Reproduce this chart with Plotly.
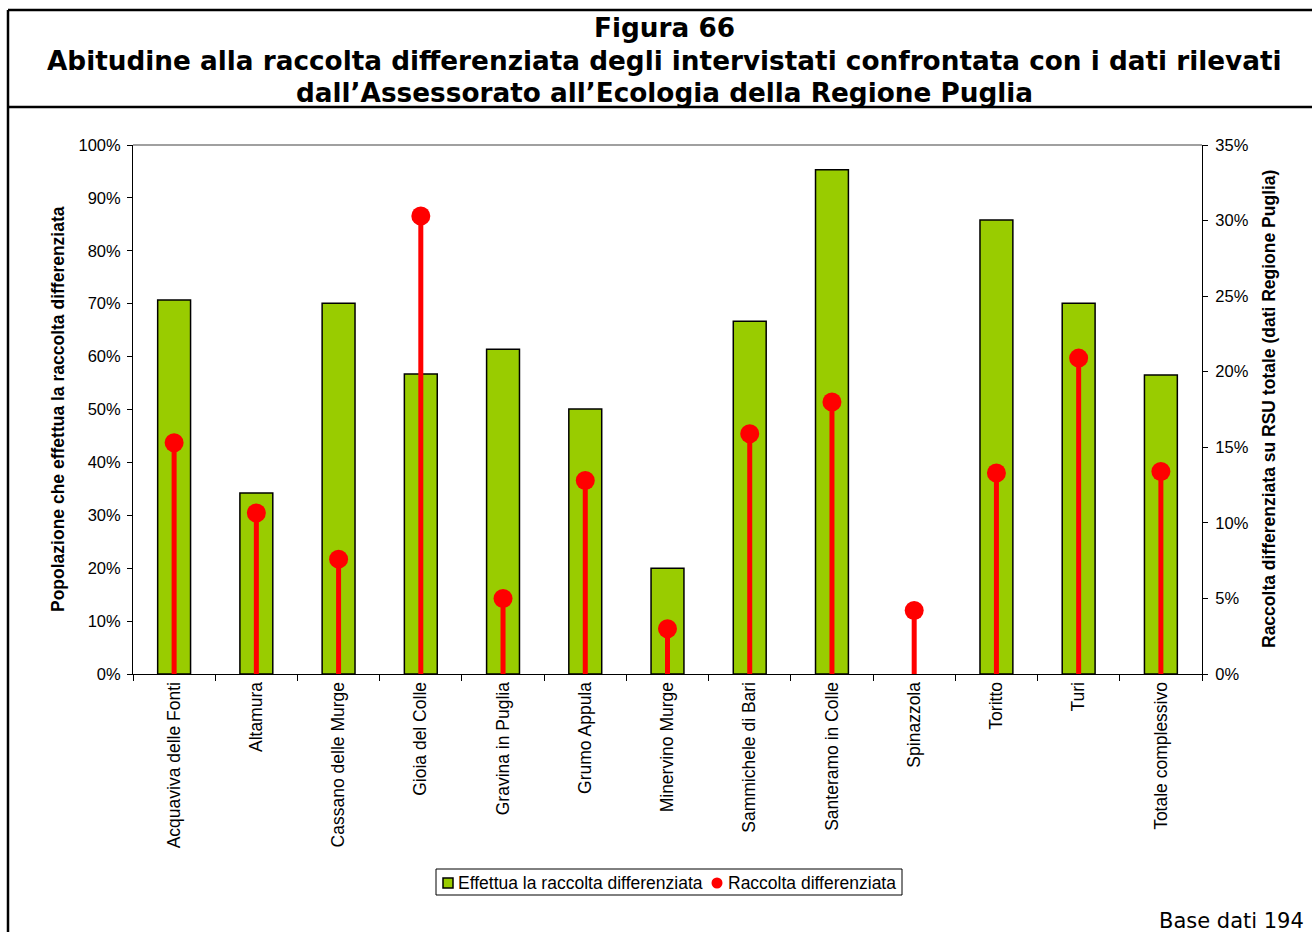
import plotly.graph_objects as go

categories = ["Acquaviva delle Fonti", "Altamura", "Cassano delle Murge", "Gioia del Colle",
              "Gravina in Puglia", "Grumo Appula", "Minervino Murge", "Sammichele di Bari",
              "Santeramo in Colle", "Spinazzola", "Toritto", "Turi", "Totale complessivo"]
effettua = [70.7, 34.2, 70.1, 56.7, 61.4, 50.1, 20.0, 66.7, 95.3, 0.0, 85.8, 70.1, 56.5]
raccolta = [15.3, 10.65, 7.6, 30.3, 5.0, 12.8, 3.0, 15.9, 18.0, 4.2, 13.3, 20.9, 13.4]

left_ticks = [0, 10, 20, 30, 40, 50, 60, 70, 80, 90, 100]
right_ticks = [0, 5, 10, 15, 20, 25, 30, 35]

W, H = 1312, 932
L, R, T, B = 133, 1202, 145, 674


def xp(px):
    return (px - L) / (R - L)


def yp(py):
    return (B - py) / (B - T)


FONT = "Arial, Liberation Sans, sans-serif"
TFONT = "Verdana, DejaVu Sans, sans-serif"
GREEN = "#99CC00"
RED = "#FF0000"

fig = go.Figure()
fig.add_trace(go.Bar(
    x=categories, y=effettua, name="Effettua la raccolta differenziata",
    marker=dict(color=GREEN,
                line=dict(color="black", width=[1.5 if v > 0 else 0 for v in effettua])),
    width=0.4, yaxis="y", showlegend=False,
))
fig.add_trace(go.Scatter(
    x=categories, y=raccolta, name="Raccolta differenziata", mode="markers",
    marker=dict(color=RED, size=19),
    error_y=dict(type="data", symmetric=False, array=[0] * len(raccolta),
                 arrayminus=raccolta, color=RED, thickness=5, width=0),
    yaxis="y2", showlegend=False,
))

fig.update_layout(
    width=W, height=H,
    margin=dict(l=L, r=W - R, t=T, b=H - B),
    paper_bgcolor="white", plot_bgcolor="white",
    font=dict(family=FONT, size=16, color="black"),
    showlegend=False,
    xaxis=dict(showline=True, linecolor="black", linewidth=1, ticks="outside",
               tickson="boundaries", ticklen=6, tickcolor="black", tickangle=-90,
               tickfont=dict(family=FONT, size=17.5), showgrid=False,
               range=[-0.5, len(categories) - 0.5]),
    yaxis=dict(range=[0, 100], tickvals=left_ticks,
               ticktext=[f"{v}%" for v in left_ticks],
               showline=True, linecolor="black", linewidth=1, ticks="outside",
               ticklen=5, tickcolor="black", showgrid=False, zeroline=False,
               ticklabelstandoff=3,
               tickfont=dict(family=FONT, size=16.5)),
    yaxis2=dict(range=[0, 35], tickvals=right_ticks,
                ticktext=[f"{v}%" for v in right_ticks],
                overlaying="y", side="right",
                showline=True, linecolor="black", linewidth=1, ticks="outside",
                ticklen=5, tickcolor="black", showgrid=False, zeroline=False,
                ticklabelstandoff=4,
                tickfont=dict(family=FONT, size=16.5)),
)

shapes = [
    # top border of plot area (gray)
    dict(type="line", xref="paper", yref="paper", x0=0, x1=1, y0=1, y1=1,
         line=dict(color="#808080", width=1.5)),
    # frame
    dict(type="line", xref="paper", yref="paper", x0=xp(8), x1=xp(8), y0=yp(10), y1=yp(940),
         line=dict(color="black", width=2.5)),
    dict(type="line", xref="paper", yref="paper", x0=xp(8), x1=xp(1320), y0=yp(10), y1=yp(10),
         line=dict(color="black", width=2.5)),
    dict(type="line", xref="paper", yref="paper", x0=xp(8), x1=xp(1320), y0=yp(107), y1=yp(107),
         line=dict(color="black", width=2.5)),
    # legend box
    dict(type="rect", xref="paper", yref="paper", x0=xp(436), x1=xp(902), y0=yp(869), y1=yp(895),
         line=dict(color="black", width=1), fillcolor="white"),
    dict(type="rect", xref="paper", yref="paper", x0=xp(443), x1=xp(453), y0=yp(878), y1=yp(888),
         line=dict(color="black", width=1.5), fillcolor=GREEN),
    dict(type="circle", xref="paper", yref="paper", x0=xp(711.5), x1=xp(722.5), y0=yp(877.5), y1=yp(888.5),
         line=dict(color=RED, width=0), fillcolor=RED),
]
fig.update_layout(shapes=shapes)

title_lines = ["Figura 66",
               "Abitudine alla raccolta differenziata degli intervistati confrontata con i dati rilevati",
               "dall\u2019Assessorato all\u2019Ecologia della Regione Puglia"]
title_y = [28, 61, 93]
annotations = []
for txt, ty in zip(title_lines, title_y):
    annotations.append(dict(text=f"<b>{txt}</b>", xref="paper", yref="paper",
                            x=xp(664), y=yp(ty), xanchor="center", yanchor="middle",
                            showarrow=False, font=dict(family=TFONT, size=26.3, color="black")))
annotations.append(dict(text="<b>Popolazione che effettua la raccolta differenziata</b>",
                        xref="paper", yref="paper", x=xp(58), y=yp(409), textangle=-90,
                        xanchor="center", yanchor="middle", showarrow=False,
                        font=dict(family=FONT, size=17.5)))
annotations.append(dict(text="<b>Raccolta differenziata su RSU totale (dati Regione Puglia)</b>",
                        xref="paper", yref="paper", x=xp(1269), y=yp(409), textangle=-90,
                        xanchor="center", yanchor="middle", showarrow=False,
                        font=dict(family=FONT, size=17.5)))
annotations.append(dict(text="Base dati 194", xref="paper", yref="paper",
                        x=xp(1306), y=yp(921), xanchor="right", yanchor="middle",
                        showarrow=False, font=dict(family=TFONT, size=21)))
# legend texts
annotations.append(dict(text="Effettua la raccolta differenziata", xref="paper", yref="paper",
                        x=xp(456), y=yp(883), xanchor="left", yanchor="middle",
                        showarrow=False, font=dict(family=FONT, size=17.5)))
annotations.append(dict(text="Raccolta differenziata", xref="paper", yref="paper",
                        x=xp(726), y=yp(883), xanchor="left", yanchor="middle",
                        showarrow=False, font=dict(family=FONT, size=17.5)))
fig.update_layout(annotations=annotations)

fig.write_html("out.html",
               config={"displayModeBar": False},
               post_script="document.body.style.margin='0px';document.body.style.padding='0px';"
                           "document.body.style.overflow='hidden';")
